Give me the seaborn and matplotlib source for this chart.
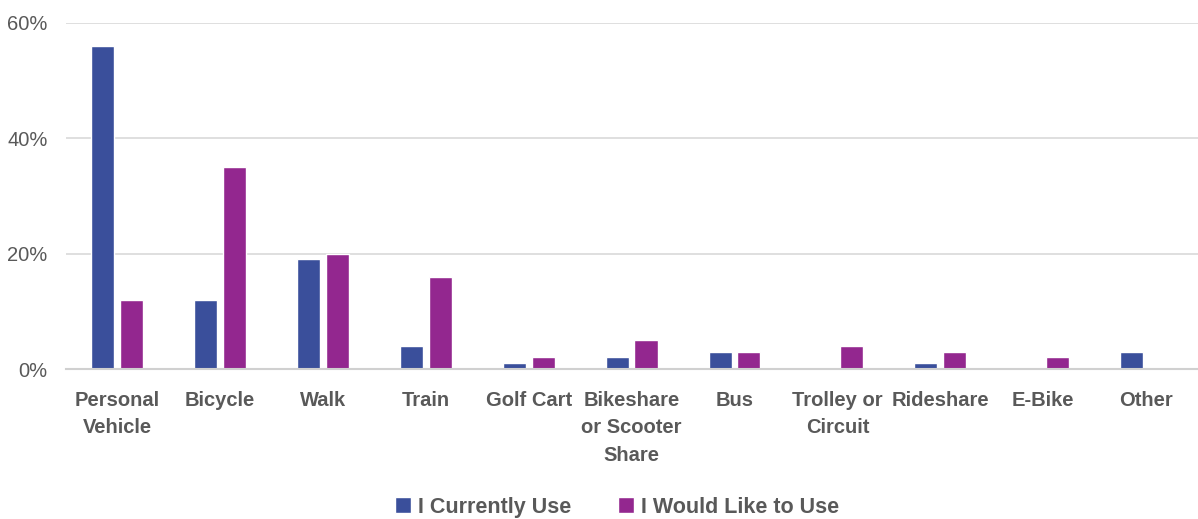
import pandas as pd
import matplotlib.pyplot as plt
import seaborn as sns

# data
modes = ["Personal\nVehicle", "Bicycle", "Walk", "Train", "Golf Cart",
         "Bikeshare\nor Scooter\nShare", "Bus", "Trolley or\nCircuit",
         "Rideshare", "E-Bike", "Other"]
current_use = [56, 12, 19, 4, 1, 2, 3, 0, 1, 0, 3]
would_like = [12, 35, 20, 16, 2, 5, 3, 4, 3, 2, 0]
series = ["I Currently Use", "I Would Like to Use"]

df = pd.DataFrame({
    "mode": modes * 2,
    "share": current_use + would_like,
    "series": [series[0]] * len(modes) + [series[1]] * len(modes),
})

sns.set_theme(style="white")
plt.rcParams["font.family"] = ["Liberation Sans", "DejaVu Sans"]
text_col = "#595959"

fig = plt.figure(figsize=(11.98, 5.19), dpi=100)
ax = fig.add_axes([0.0547, 0.289, 0.945, 0.6667])

sns.barplot(data=df, x="mode", y="share", hue="series", order=modes,
            hue_order=series, palette=["#3A4F9B", "#93278F"], saturation=1,
            width=0.56, gap=0.2, ax=ax, legend=True)

ax.set_ylim(0, 60)
ax.set_xlim(-0.5, len(modes) - 0.5)
ax.set_yticks([0, 20, 40, 60])
ax.set_yticklabels([f"{v}%" for v in [0, 20, 40, 60]], fontsize=14.5, color=text_col)
ax.set_xticks(range(len(modes)))
ax.set_xticklabels(modes, fontsize=14.5, fontweight="bold", color=text_col,
                   linespacing=1.58, va="top")
ax.tick_params(axis="x", length=0, pad=15.5)
ax.tick_params(axis="y", length=0, pad=13)
ax.set_xlabel("")
ax.set_ylabel("")

ax.yaxis.grid(True, color="#D9D9D9", linewidth=1.2)
ax.set_axisbelow(True)
for s in ["top", "right", "left"]:
    ax.spines[s].set_visible(False)
ax.spines["bottom"].set_color("#D0D0D0")
ax.spines["bottom"].set_linewidth(1.5)

handles, labels = ax.get_legend_handles_labels()
ax.legend_.remove()
leg = fig.legend(handles, labels, loc="lower center", bbox_to_anchor=(0.515, -0.035),
                 ncol=2, frameon=False, handlelength=0.75, handleheight=0.75,
                 handletextpad=0.3, columnspacing=2.2,
                 prop={"size": 15.5, "weight": "bold"})
for t in leg.get_texts():
    t.set_color(text_col)

fig.savefig("out.png", dpi=100)
